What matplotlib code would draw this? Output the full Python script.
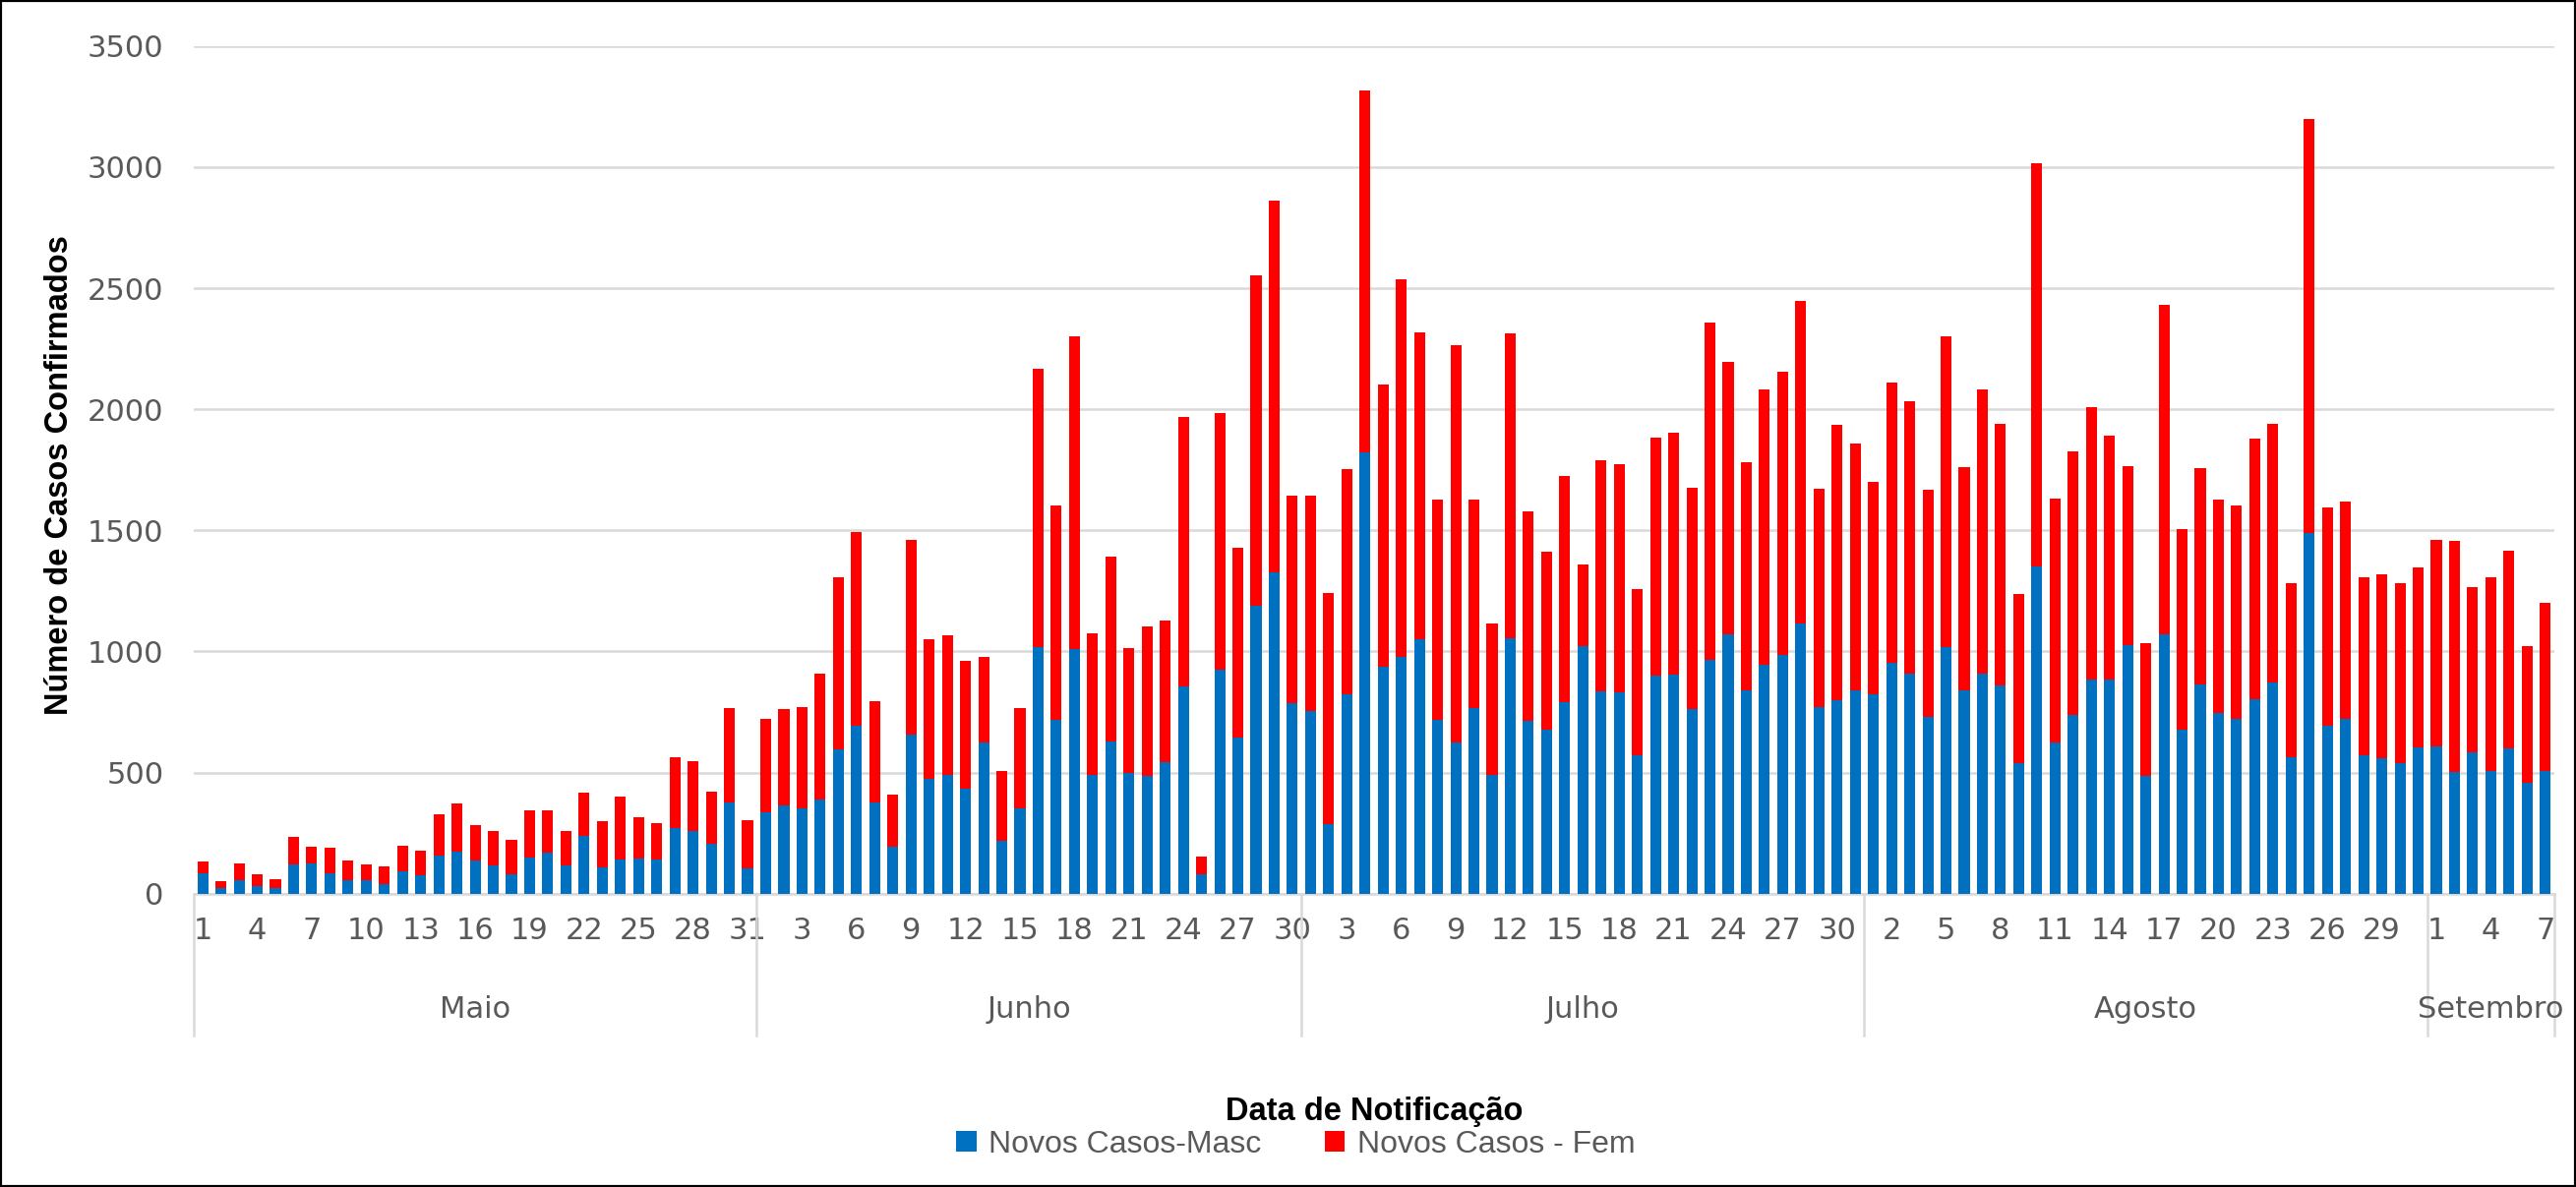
import matplotlib
matplotlib.use("Agg")
import matplotlib.pyplot as plt
from matplotlib.patches import Rectangle
import matplotlib.transforms as mtransforms

# Monthly groups on the category axis
months = ["Maio", "Junho", "Julho", "Agosto", "Setembro"]
month_days = [31, 30, 31, 31, 7]

# New cases, male (blue), May 1 .. Sep 7
masc = [
    85, 23, 57, 31, 23, 119, 124, 85, 57, 57, 41, 93, 75, 155, 174, 135,
    117, 78, 148, 168, 117, 238, 109, 142, 145, 142, 269, 259, 207, 376, 104,
    334, 363, 350, 389, 596, 694, 376, 192, 658, 474, 490, 433, 622, 218, 350,
    1016, 718, 1008, 490, 630, 500, 484, 544, 855, 80, 925, 645, 1189, 1326, 788,
    754, 288, 824, 1824, 938, 979, 1049, 718, 622, 767, 490, 1054, 712, 676, 790,
    1023, 834, 832, 570, 902, 904, 762, 966, 1070, 839, 946, 984, 1114, 769, 800, 839,
    824, 951, 909, 731, 1016, 839, 907, 860, 539, 1352, 622, 738, 883, 883, 1026,
    484, 1070, 676, 865, 744, 720, 803, 870, 562, 1487, 692, 723, 573, 557, 539, 604,
    606, 503, 583, 508, 598, 456, 508,
]

# New cases, female (red)
fem = [
    47, 29, 67, 49, 37, 117, 68, 104, 78, 65, 70, 104, 101, 174, 199, 147,
    142, 145, 194, 177, 142, 179, 189, 257, 171, 148, 296, 288, 213, 391, 199,
    386, 401, 419, 520, 710, 801, 419, 215, 801, 578, 575, 528, 355, 287, 417,
    1152, 886, 1295, 583, 761, 513, 620, 583, 1114, 73, 1059, 785, 1365, 1537, 854,
    888, 953, 930, 1492, 1163, 1557, 1270, 909, 1642, 860, 627, 1259, 866, 736, 933,
    337, 954, 940, 686, 981, 1000, 912, 1394, 1124, 943, 1137, 1171, 1334, 902, 1135, 1019,
    876, 1160, 1125, 937, 1287, 923, 1173, 1078, 699, 1666, 1010, 1088, 1127, 1008, 738,
    550, 1363, 829, 891, 883, 881, 1075, 1068, 720, 1712, 904, 896, 735, 762, 741, 743,
    855, 953, 681, 800, 817, 565, 691,
]

day_labels = []
for n in month_days:
    day_labels += [str(d) for d in range(1, n + 1)]

blue = "#0070C0"
red = "#FF0000"
grey_txt = "#595959"
grid_col = "#D9D9D9"

fig = plt.figure(figsize=(26.19, 12.07), dpi=100)
ax = fig.add_axes([0.0752, 0.2472, 0.9164, 0.714])

x = list(range(len(masc)))
ax.bar(x, masc, width=0.6, color=blue, label="Novos Casos-Masc", zorder=3)
ax.bar(x, fem, width=0.6, bottom=masc, color=red, label="Novos Casos - Fem", zorder=3)

ax.set_xlim(-0.5, len(masc) - 0.5)
ax.set_ylim(0, 3500)
ax.set_yticks(range(0, 3501, 500))
ax.yaxis.grid(True, color=grid_col, linewidth=1.8, zorder=0)
ax.set_axisbelow(True)

for s in ["top", "right", "left"]:
    ax.spines[s].set_visible(False)
ax.spines["bottom"].set_color(grid_col)
ax.spines["bottom"].set_linewidth(1.8)

ticks = x[::3]
ax.set_xticks(ticks)
ax.set_xticklabels([day_labels[i] for i in ticks])
ax.tick_params(axis="x", length=0, pad=17, labelsize=22, labelcolor=grey_txt)
ax.tick_params(axis="y", length=0, pad=22, labelsize=22, labelcolor=grey_txt)

# month groups below the day labels
trans = mtransforms.blended_transform_factory(ax.transData, ax.transAxes)
edges = [-0.5]
for n in month_days:
    edges.append(edges[-1] + n)
for e in edges:
    ax.plot([e, e], [0, -0.167], transform=trans, color=grid_col,
            linewidth=1.8, clip_on=False)
for i, m in enumerate(months):
    ax.text((edges[i] + edges[i + 1]) / 2, -0.137, m, transform=trans,
            ha="center", va="center", fontsize=22, color=grey_txt)

ax.text(0.5, -0.258, "Data de Notificação", transform=ax.transAxes,
        ha="center", va="center", fontsize=23.5, fontweight="bold",
        family="Liberation Sans")
fig.text(0.023, 0.6, "Número de Casos Confirmados", rotation=90,
         ha="center", va="center", fontsize=23.5, fontweight="bold",
         family="Liberation Sans")

fig.legend(loc="center", bbox_to_anchor=(0.503, 0.036), ncol=2, frameon=False,
           prop={"family": "Liberation Sans", "size": 23},
           labelcolor=grey_txt, handlelength=0.65, handleheight=0.65,
           columnspacing=2.0, handletextpad=0.4)

fig.patches.append(Rectangle((0, 0), 1, 1, transform=fig.transFigure,
                             fill=False, edgecolor="black", linewidth=3))

fig.savefig("out.png", dpi=100)
